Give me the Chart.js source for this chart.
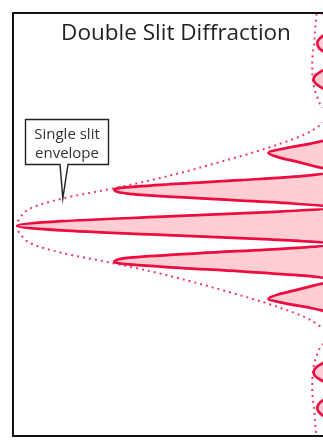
<!DOCTYPE html>
<html lang="en">
<head>
<meta charset="UTF-8">
<title>Double Slit Diffraction</title>
<style>
  html, body {
    margin: 0;
    padding: 0;
    background: #fff;
    overflow: hidden;
  }
  #wrap {
    width: 323px;
    height: 440px;
  }
  canvas {
    display: block;
  }
</style>
<script src="https://cdn.jsdelivr.net/npm/chart.js"></script>
</head>
<body>

<div id="wrap">
  <canvas id="pattern" width="323" height="440"></canvas>
</div>

<script>
// Screen position, in fringe spacings from the centre
var positions = [
  -6, -5.875, -5.75, -5.625, -5.5, -5.375, -5.25, -5.125,
  -5, -4.875, -4.75, -4.625, -4.5, -4.375, -4.25, -4.125,
  -4, -3.875, -3.75, -3.625, -3.5, -3.375, -3.25, -3.125,
  -3, -2.875, -2.75, -2.625, -2.5, -2.375, -2.25, -2.125,
  -2, -1.875, -1.75, -1.625, -1.5, -1.375, -1.25, -1.125,
  -1, -0.875, -0.75, -0.625, -0.5, -0.375, -0.25, -0.125,
  0,
  0.125, 0.25, 0.375, 0.5, 0.625, 0.75, 0.875, 1,
  1.125, 1.25, 1.375, 1.5, 1.625, 1.75, 1.875, 2,
  2.125, 2.25, 2.375, 2.5, 2.625, 2.75, 2.875, 3,
  3.125, 3.25, 3.375, 3.5, 3.625, 3.75, 3.875, 4,
  4.125, 4.25, 4.375, 4.5, 4.625, 4.75, 4.875, 5,
  5.125, 5.25, 5.375, 5.5, 5.625, 5.75, 5.875, 6
];

// Relative intensity of the double slit pattern (central maximum = 1)
var intensity = [
  0.039, 0.034, 0.021, 0.006, 0, 0.007, 0.023, 0.041,
  0.048, 0.043, 0.026, 0.008, 0, 0.009, 0.032, 0.054,
  0.060, 0.051, 0.028, 0.008, 0, 0.006, 0.015, 0,
  0.002, 0.007, 0.010, 0.005, 0, 0.012, 0.070, 0.150,
  0.203, 0.170, 0.110, 0.054, 0, 0.080, 0.290, 0.537,
  0.692, 0.643, 0.420, 0.150, 0, 0.200, 0.540, 0.860,
  1,
  0.860, 0.540, 0.200, 0, 0.150, 0.420, 0.643, 0.692,
  0.537, 0.290, 0.080, 0, 0.054, 0.110, 0.170, 0.203,
  0.150, 0.070, 0.012, 0, 0.005, 0.010, 0.007, 0.002,
  0, 0.015, 0.006, 0, 0.008, 0.028, 0.051, 0.060,
  0.054, 0.032, 0.009, 0, 0.008, 0.026, 0.043, 0.048,
  0.041, 0.023, 0.007, 0, 0.006, 0.021, 0.034, 0.039
];

// Single slit envelope
var envPositions = [
  -6, -5.75, -5.5, -5.25, -5, -4.75, -4.5, -4.25, -4, -3.75, -3.5, -3.25, -3.125,
  -3, -2.75, -2.5, -2.25, -2, -1.75, -1.5, -1.25, -1, -0.75, -0.5, -0.25,
  0,
  0.25, 0.5, 0.75, 1, 1.25, 1.5, 1.75, 2, 2.25, 2.5, 2.75, 3,
  3.125, 3.25, 3.5, 3.75, 4, 4.25, 4.5, 4.75, 5, 5.25, 5.5, 5.75, 6
];
var envelope = [
  0.048, 0.051, 0.054, 0.056, 0.058, 0.062, 0.064, 0.064, 0.062, 0.057, 0.047, 0.030, 0,
  0.008, 0.040, 0.088, 0.165, 0.255, 0.355, 0.460, 0.575, 0.710, 0.855, 0.952, 0.988,
  1,
  0.988, 0.952, 0.855, 0.710, 0.575, 0.460, 0.355, 0.255, 0.165, 0.088, 0.040, 0.008,
  0, 0.030, 0.047, 0.057, 0.062, 0.064, 0.064, 0.062, 0.058, 0.056, 0.054, 0.051, 0.048
];

var titleText = 'Double Slit Diffraction';
var calloutLines = ['Single slit', 'envelope'];
var calloutAt = 0.75; // envelope position the callout points to

function toPoints(ys, xs) {
  return ys.map(function (y, i) { return { x: xs[i], y: y }; });
}

// frame, title and the callout box
var decorations = {
  id: 'decorations',
  afterDraw: function (chart) {
    var ctx = chart.ctx;
    var a = chart.chartArea;
    ctx.save();

    ctx.strokeStyle = '#111';
    ctx.lineWidth = 2;
    ctx.beginPath();
    ctx.moveTo(a.right + 4, a.top);
    ctx.lineTo(a.left, a.top);
    ctx.lineTo(a.left, a.bottom);
    ctx.lineTo(a.right + 4, a.bottom);
    ctx.stroke();

    ctx.fillStyle = '#222';
    ctx.font = '22.5px "Open Sans"';
    ctx.textAlign = 'center';
    ctx.textBaseline = 'alphabetic';
    ctx.fillText(titleText, 176, 40);

    var k = envPositions.indexOf(calloutAt);
    var tipX = chart.scales.x.getPixelForValue(envelope[k]);
    var tipY = chart.scales.y.getPixelForValue(calloutAt);

    ctx.beginPath();
    ctx.moveTo(25.5, 119.5);
    ctx.lineTo(108.5, 119.5);
    ctx.lineTo(108.5, 164.5);
    ctx.lineTo(68, 164.5);
    ctx.lineTo(tipX, tipY);
    ctx.lineTo(60, 164.5);
    ctx.lineTo(25.5, 164.5);
    ctx.closePath();
    ctx.fillStyle = '#fff';
    ctx.fill();
    ctx.strokeStyle = '#222';
    ctx.lineWidth = 1.4;
    ctx.lineJoin = 'miter';
    ctx.stroke();

    ctx.fillStyle = '#333';
    ctx.font = '15px "Open Sans"';
    ctx.fillText(calloutLines[0], 67, 139);
    ctx.fillText(calloutLines[1], 67, 158);
    ctx.restore();
  }
};

new Chart(document.getElementById('pattern'), {
  type: 'line',
  data: {
    datasets: [{
      label: 'Intensity',
      data: toPoints(positions, intensity),
      borderColor: '#ec0c40',
      borderWidth: 2.7,
      backgroundColor: 'rgba(255, 165, 176, 0.55)',
      fill: 'origin',
      pointRadius: 0,
      cubicInterpolationMode: 'monotone'
    }, {
      label: 'Single slit envelope',
      data: toPoints(envPositions, envelope),
      borderColor: '#f23a62',
      borderWidth: 2,
      borderDash: [2, 4],
      fill: false,
      pointRadius: 0,
      cubicInterpolationMode: 'monotone'
    }]
  },
  options: {
    indexAxis: 'y',
    responsive: false,
    animation: false,
    layout: {
      padding: { left: 13, top: 13, right: 0, bottom: 4 }
    },
    scales: {
      x: { type: 'linear', reverse: true, min: 0.03, max: 1.013, display: false },
      y: { type: 'linear', min: -5.76, max: 5.83, display: false }
    },
    plugins: {
      legend: { display: false },
      tooltip: { enabled: false }
    }
  },
  plugins: [decorations]
});
</script>

</body>
</html>
